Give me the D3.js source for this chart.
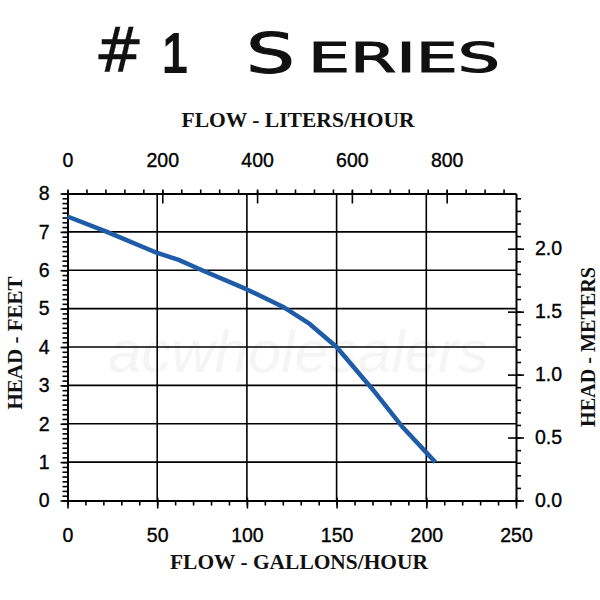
<!DOCTYPE html>
<html>
<head>
<meta charset="utf-8">
<script src="https://cdnjs.cloudflare.com/ajax/libs/d3/7.8.5/d3.min.js"></script>
<style>
  body { margin: 0; background: #fff; }
</style>
</head>
<body>
<div id="graph"></div>
<script>
//pump curve data (gallons/hour vs feet of head)
let flowGal = [0, 22, 50, 62, 75, 100, 120, 135, 150, 170, 187, 205];
let headFt = [7.4, 7.0, 6.45, 6.27, 6.0, 5.5, 5.05, 4.6, 4.0, 2.9, 1.9, 1.0];

let galTicks = [0, 50, 100, 150, 200, 250];
let literTicks = [0, 200, 400, 600, 800];
let feetTicks = [0, 1, 2, 3, 4, 5, 6, 7, 8];
let meterTicks = [0, 0.5, 1.0, 1.5, 2.0];

let w = 600;
let h = 600;

let pLeft = 67.5;
let pRight = 516;
let pTop = 193.5;
let pBottom = 500.5;

let galToLiter = 3.785;
let ftToMeter = 0.3048;

let svg = d3.select("#graph")
              .append("svg")
                .attr("width", w)
                .attr("height", h)
;

//scales
let x = d3.scaleLinear().domain([0, 250]).range([pLeft, pRight]);
let xL = d3.scaleLinear().domain([0, 250 * galToLiter]).range([pLeft, pRight]);
let y = d3.scaleLinear().domain([0, 8]).range([pBottom, pTop]);
let yM = d3.scaleLinear().domain([0, 8 * ftToMeter]).range([pBottom, pTop]);

//title
let title = svg.append("g")
                 .attr("font-family", "DejaVu Sans")
                 .attr("fill", "#111")
                 .attr("stroke", "#111")
                 .attr("stroke-width", 1.1)
;
title.append("text").attr("x", 94).attr("y", 72).attr("font-size", 62)
     .attr("stroke-width", 0.3)
     .attr("textLength", 50).attr("lengthAdjust", "spacingAndGlyphs").text("#");
title.append("text").attr("x", 162).attr("y", 72).attr("font-size", 56)
     .attr("font-family", "Liberation Sans")
     .attr("stroke-width", 2.2)
     .attr("textLength", 26).attr("lengthAdjust", "spacingAndGlyphs").text("1");
title.append("text").attr("x", 246).attr("y", 72).attr("font-size", 55)
     .attr("textLength", 49).attr("lengthAdjust", "spacingAndGlyphs").text("S");
title.append("text").attr("x", 308).attr("y", 72).attr("font-size", 41)
     .attr("textLength", 192).attr("lengthAdjust", "spacingAndGlyphs").text("ERIES");

//faint watermark
svg.append("text")
     .attr("x", 298)
     .attr("y", 372)
     .attr("text-anchor", "middle")
     .attr("font-family", "Liberation Sans")
     .attr("font-style", "italic")
     .attr("font-size", 60)
     .attr("fill", "#000")
     .attr("opacity", 0.035)
     .text("acwholesalers")
;

//grid lines
let grid = svg.append("g").attr("stroke", "#000").attr("stroke-width", 1.6);

grid.selectAll("vgrid").data(galTicks.slice(1, 5)).enter()
      .append("line")
        .attr("x1", d => x(d))
        .attr("x2", d => x(d))
        .attr("y1", pTop)
        .attr("y2", pBottom)
;
grid.selectAll("hgrid").data(feetTicks.slice(1, 8)).enter()
      .append("line")
        .attr("x1", pLeft)
        .attr("x2", pRight)
        .attr("y1", d => y(d))
        .attr("y2", d => y(d))
;

//axes
function axisStyle(g){
  g.select(".domain").attr("stroke", "#000").attr("stroke-width", 2);
  g.selectAll(".tick line").attr("stroke", "#000").attr("stroke-width", 1.6);
  g.selectAll("text")
     .attr("font-family", "Liberation Sans")
     .attr("font-size", 19.5)
     .attr("fill", "#000")
     .attr("stroke", "#000")
     .attr("stroke-width", 0.35);
}

//bottom gallons
svg.append("g")
     .attr("transform", "translate(0," + pBottom + ")")
     .call(d3.axisBottom(x).tickValues(d3.range(0, 251, 10)).tickSize(5).tickSizeOuter(0).tickFormat(""))
     .call(axisStyle)
;
svg.append("g")
     .attr("transform", "translate(0," + pBottom + ")")
     .call(d3.axisBottom(x).tickValues(galTicks).tickSize(8).tickSizeOuter(0).tickPadding(20))
     .call(axisStyle)
     .call(g => g.select(".domain").remove())
     .call(g => g.selectAll(".tick line").attr("y1", -3))
;

//top liters
svg.append("g")
     .attr("transform", "translate(0," + pTop + ")")
     .call(d3.axisTop(xL).tickValues(d3.range(0, 921, 40)).tickSize(4).tickSizeOuter(0).tickFormat(""))
     .call(axisStyle)
;
svg.append("g")
     .attr("transform", "translate(0," + pTop + ")")
     .call(d3.axisTop(xL).tickValues(literTicks).tickSize(3).tickSizeOuter(0).tickPadding(24))
     .call(axisStyle)
     .call(g => g.select(".domain").remove())
     .call(g => g.selectAll(".tick line").attr("y1", 10))
;

//left feet
svg.append("g")
     .attr("transform", "translate(" + pLeft + ",0)")
     .call(d3.axisLeft(y).tickValues(d3.range(0, 8.01, 0.125)).tickSize(5).tickSizeOuter(0).tickFormat(""))
     .call(axisStyle)
;
svg.append("g")
     .attr("transform", "translate(" + pLeft + ",0)")
     .call(d3.axisLeft(y).tickValues(feetTicks).tickSize(7).tickSizeOuter(0).tickPadding(11).tickFormat(d3.format("d")))
     .call(axisStyle)
     .call(g => g.select(".domain").remove())
;

//right meters
svg.append("g")
     .attr("transform", "translate(" + pRight + ",0)")
     .call(d3.axisRight(yM).tickValues(d3.range(0, 2.41, 0.1)).tickSize(5).tickSizeOuter(0).tickFormat(""))
     .call(axisStyle)
;
svg.append("g")
     .attr("transform", "translate(" + pRight + ",0)")
     .call(d3.axisRight(yM).tickValues(meterTicks).tickSize(8).tickSizeOuter(0).tickPadding(11).tickFormat(d3.format(".1f")))
     .call(axisStyle)
     .call(g => g.select(".domain").remove())
     .call(g => g.selectAll(".tick line").attr("x1", -8))
;

//axis titles
let titles = svg.append("g")
                  .attr("font-family", "Liberation Serif")
                  .attr("font-weight", "bold")
                  .attr("font-size", 20)
                  .attr("fill", "#111")
                  .attr("text-anchor", "middle")
;
titles.append("text").attr("x", 298).attr("y", 127)
      .attr("textLength", 233).attr("lengthAdjust", "spacingAndGlyphs").text("FLOW - LITERS/HOUR");
titles.append("text").attr("x", 299).attr("y", 569)
      .attr("textLength", 258).attr("lengthAdjust", "spacingAndGlyphs").text("FLOW - GALLONS/HOUR");
titles.append("text").attr("transform", "translate(22,343) rotate(-90)")
      .attr("textLength", 133).attr("lengthAdjust", "spacingAndGlyphs").text("HEAD - FEET");
titles.append("text").attr("transform", "translate(595,347) rotate(-90)")
      .attr("textLength", 160).attr("lengthAdjust", "spacingAndGlyphs").text("HEAD - METERS");

//curve
let line = d3.line()
               .x((d, i) => x(flowGal[i]))
               .y(d => y(d))
;
svg.append("path")
     .attr("d", line(headFt))
     .attr("fill", "none")
     .attr("stroke", "#1f5ca8")
     .attr("stroke-width", 4.5)
     .attr("stroke-linejoin", "round")
;
</script>
</body>
</html>
